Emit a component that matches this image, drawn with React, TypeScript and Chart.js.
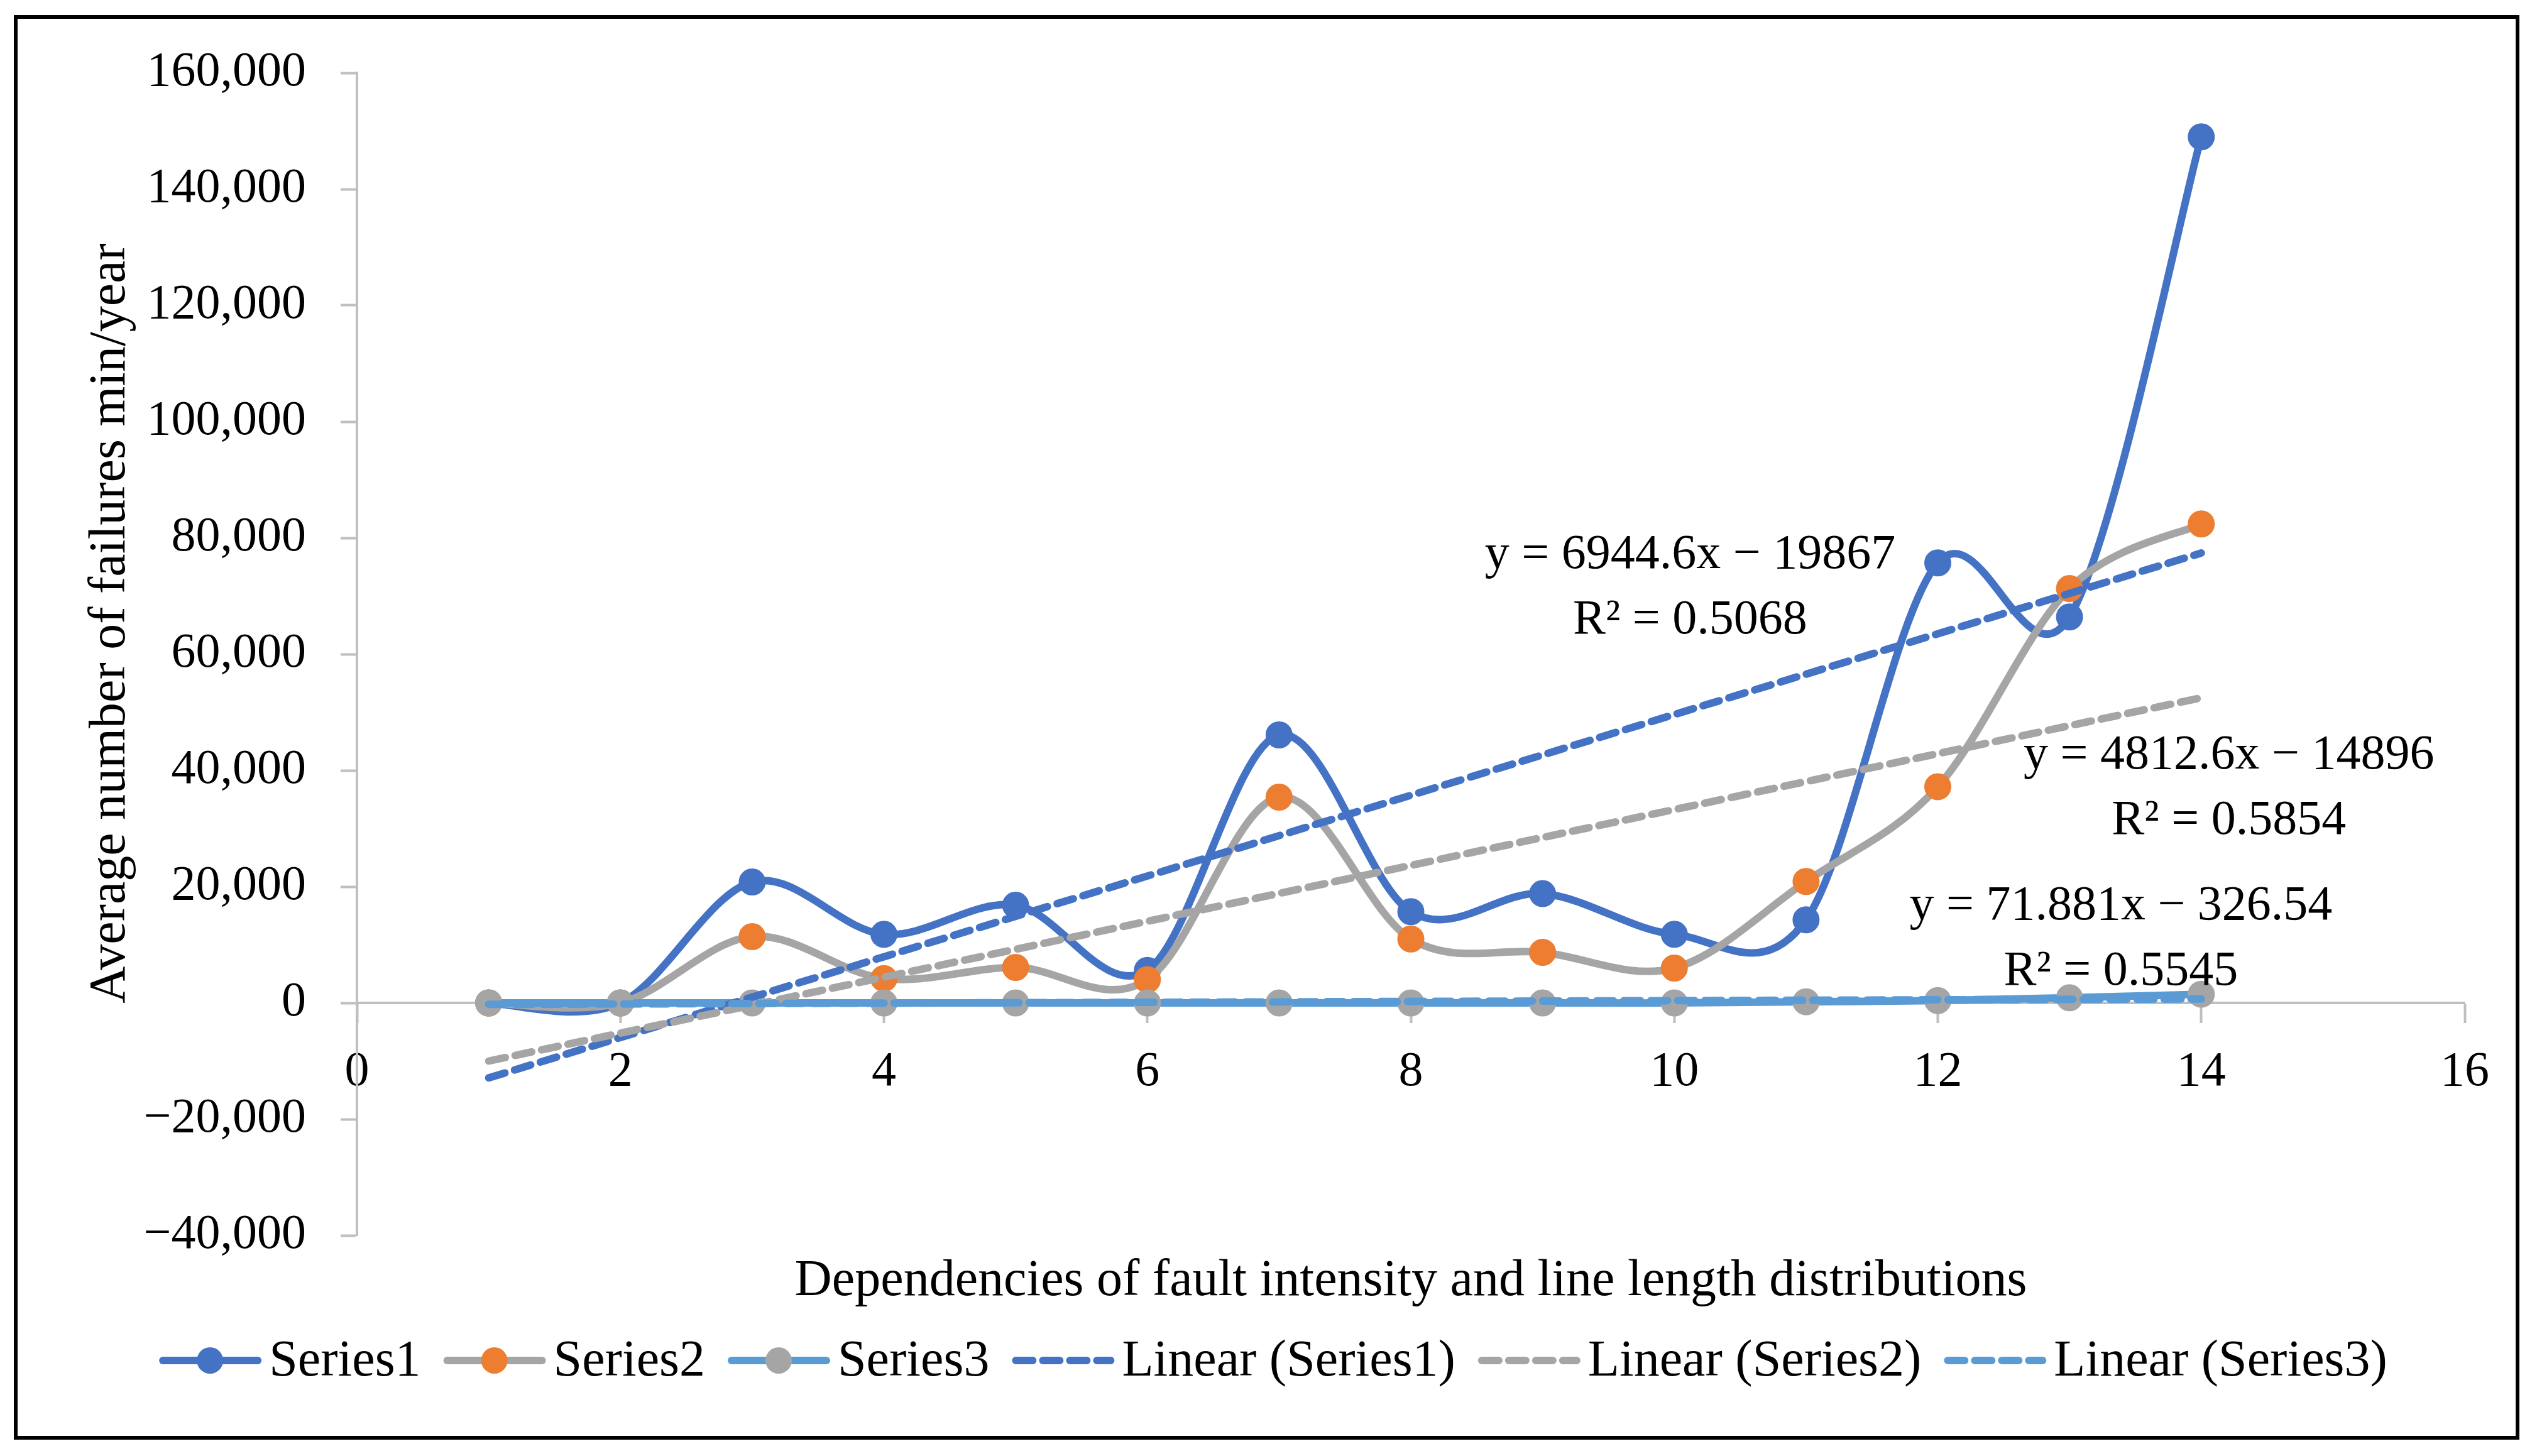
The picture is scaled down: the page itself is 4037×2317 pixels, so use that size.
import { useEffect, useRef } from 'react';
import { Chart, registerables } from 'chart.js';

Chart.register(...registerables);

const W = 4037, H = 2317;
const FONT = '"Liberation Serif", "Times New Roman", serif';
const FS = 78;   // ticks, equations
const FT = 82;   // axis titles, legend

const BLUE = '#4472C4', ORANGE = '#ED7D31', GRAY = '#A5A5A5', LBLUE = '#5B9BD5', AXIS = '#BFBFBF';

// readings
const xs = [1, 2, 3, 4, 5, 6, 7, 8, 9, 10, 11, 12, 13, 14];
const series1 = [0, 0, 20800, 11800, 16800, 5600, 46100, 15700, 18800, 11800, 14300, 75700, 66400, 149000];
const series2 = [0, 0, 11400, 4200, 6100, 4000, 35400, 11000, 8700, 6000, 20900, 37200, 71300, 82400];
const series3 = [0, 0, 0, 0, 0, 0, 0, 0, 0, 0, 200, 400, 900, 1500];

const trendX = [1, 14];
const trend1 = [-12900, 77400];
const trend2 = [-10000, 52500];
const trend3 = [-250, 680];

const eqText = [
  ['y = 6944.6x \u2212 19867', 'R\u00B2 = 0.5068'],
  ['y = 4812.6x \u2212 14896', 'R\u00B2 = 0.5854'],
  ['y = 71.881x \u2212 326.54', 'R\u00B2 = 0.5545'],
];
const eqAt = [[10.12, 74800], [14.21, 40300], [13.39, 14400]];

const xTitle = 'Dependencies of fault intensity and line length distributions';
const yTitle = 'Average number of failures min/year';

function fmt(v: number) {
  const s = Math.abs(v).toLocaleString('en-US');
  return v < 0 ? '\u2212' + s : s;
}

const pts = (ys: number[], x = xs) => x.map((xv, i) => ({ x: xv, y: ys[i] }));

const excelLook = {
  id: 'excelLook',
  beforeDraw(chart: any) {
    const c = chart.ctx;
    c.save(); c.fillStyle = '#fff'; c.fillRect(0, 0, chart.width, chart.height); c.restore();
  },
  // excel style smoothing: catmull-rom, control points at 1/6 of neighbour chord
  beforeDatasetDraw(chart: any, args: any) {
    const ds = chart.data.datasets[args.index];
    if (!ds.smooth) return;
    const p = args.meta.data;
    for (let i = 0; i < p.length; i++) {
      const a = p[i - 1] || p[i], b = p[i + 1] || p[i];
      const dx = (b.x - a.x) / 6, dy = (b.y - a.y) / 6;
      p[i].cp1x = p[i].x - dx; p[i].cp1y = p[i].y - dy;
      p[i].cp2x = p[i].x + dx; p[i].cp2y = p[i].y + dy;
    }
    args.meta.dataset._pointsUpdated = true;
  },
  afterDraw(chart: any) {
    const c = chart.ctx, ca = chart.chartArea, sx = chart.scales.x, sy = chart.scales.y;
    c.save();
    c.strokeStyle = '#000'; c.lineWidth = 6;
    c.strokeRect(25, 27, 3981, 2261);

    c.fillStyle = '#000';
    c.textAlign = 'center'; c.textBaseline = 'alphabetic';

    c.font = `${FS}px ${FONT}`;
    eqText.forEach((lines, k) => {
      const x = sx.getPixelForValue(eqAt[k][0]), y = sy.getPixelForValue(eqAt[k][1]);
      lines.forEach((t, j) => c.fillText(t, x, y + j * 104));
    });

    c.font = `${FT}px ${FONT}`;
    c.fillText(xTitle, (ca.left + ca.right) / 2, 2061);
    c.save();
    c.translate(198, 992); c.rotate(-Math.PI / 2);
    c.fillText(yTitle, 0, 0);
    c.restore();

    // legend: line + marker like excel
    const items = chart.data.datasets.map((d: any) => ({ d, w: 175 + c.measureText(d.label).width }));
    const total = items.reduce((s: number, it: any) => s + it.w, 0) + 36 * (items.length - 1);
    let x = 2026 - total / 2;
    const ly = 2165;
    c.textAlign = 'left'; c.textBaseline = 'middle';
    items.forEach(({ d, w }: any) => {
      c.strokeStyle = d.borderColor; c.lineWidth = 12; c.lineCap = 'round';
      c.setLineDash(d.borderDash || []);
      c.beginPath(); c.moveTo(x + 6, ly); c.lineTo(x + 157, ly); c.stroke();
      c.setLineDash([]);
      if (d.smooth) {
        c.fillStyle = d.pointBackgroundColor;
        c.beginPath(); c.arc(x + 81, ly, 21, 0, Math.PI * 2); c.fill();
      }
      c.fillStyle = '#000';
      c.fillText(d.label, x + 175, ly + 2);
      x += w + 36;
    });
    c.restore();
  },
};

export default function App() {
  const ref = useRef<HTMLCanvasElement>(null);

  useEffect(() => {
    document.body.style.margin = '0';
    if (!ref.current) return;
    const series = (label: string, ys: number[], line: string, mark: string, order: number) => ({
      label, data: pts(ys), borderColor: line, backgroundColor: mark,
      pointBackgroundColor: mark, pointBorderColor: mark, pointRadius: 20, pointBorderWidth: 3,
      borderWidth: 12, tension: 0.4, smooth: true, order,
    });
    const trend = (label: string, ys: number[], color: string, order: number) => ({
      label, data: pts(ys, trendX), borderColor: color, backgroundColor: color,
      borderWidth: 12, borderDash: [27, 16], borderCapStyle: 'round', pointRadius: 0, tension: 0, order,
    });
    const chart = new Chart(ref.current, {
      type: 'line',
      data: {
        datasets: [
          series('Series1', series1, BLUE, BLUE, 6),
          series('Series2', series2, GRAY, ORANGE, 5),
          series('Series3', series3, LBLUE, GRAY, 4),
          trend('Linear (Series1)', trend1, BLUE, 3),
          trend('Linear (Series2)', trend2, GRAY, 2),
          trend('Linear (Series3)', trend3, LBLUE, 1),
        ] as any,
      },
      options: {
        responsive: false, animation: false,
        layout: { padding: { top: 116, right: 115, bottom: 351, left: 0 } },
        plugins: { legend: { display: false }, tooltip: { enabled: false } },
        scales: {
          x: {
            type: 'linear', position: { y: 0 } as any, min: 0, max: 16,
            ticks: { stepSize: 2, padding: 34, maxRotation: 0, autoSkip: false, color: '#000', font: { family: FONT, size: FS } },
            grid: { drawOnChartArea: false, tickLength: 30, tickWidth: 4, tickColor: AXIS },
            border: { color: AXIS, width: 4 },
          },
          y: {
            type: 'linear', min: -40000, max: 160000,
            afterFit: (s: any) => { s.width = 568; },
            ticks: { stepSize: 20000, padding: 55, autoSkip: false, color: '#000', font: { family: FONT, size: FS }, callback: (v: any) => fmt(Number(v)) },
            grid: { drawOnChartArea: false, tickLength: 26, tickWidth: 4, tickColor: AXIS },
            border: { color: AXIS, width: 4 },
          },
        },
      },
      plugins: [excelLook],
    });
    return () => chart.destroy();
  }, []);

  return (
    <div style={{ width: W, height: H, background: '#fff' }}>
      <canvas ref={ref} width={W} height={H} style={{ display: 'block', width: W, height: H }} />
    </div>
  );
}
